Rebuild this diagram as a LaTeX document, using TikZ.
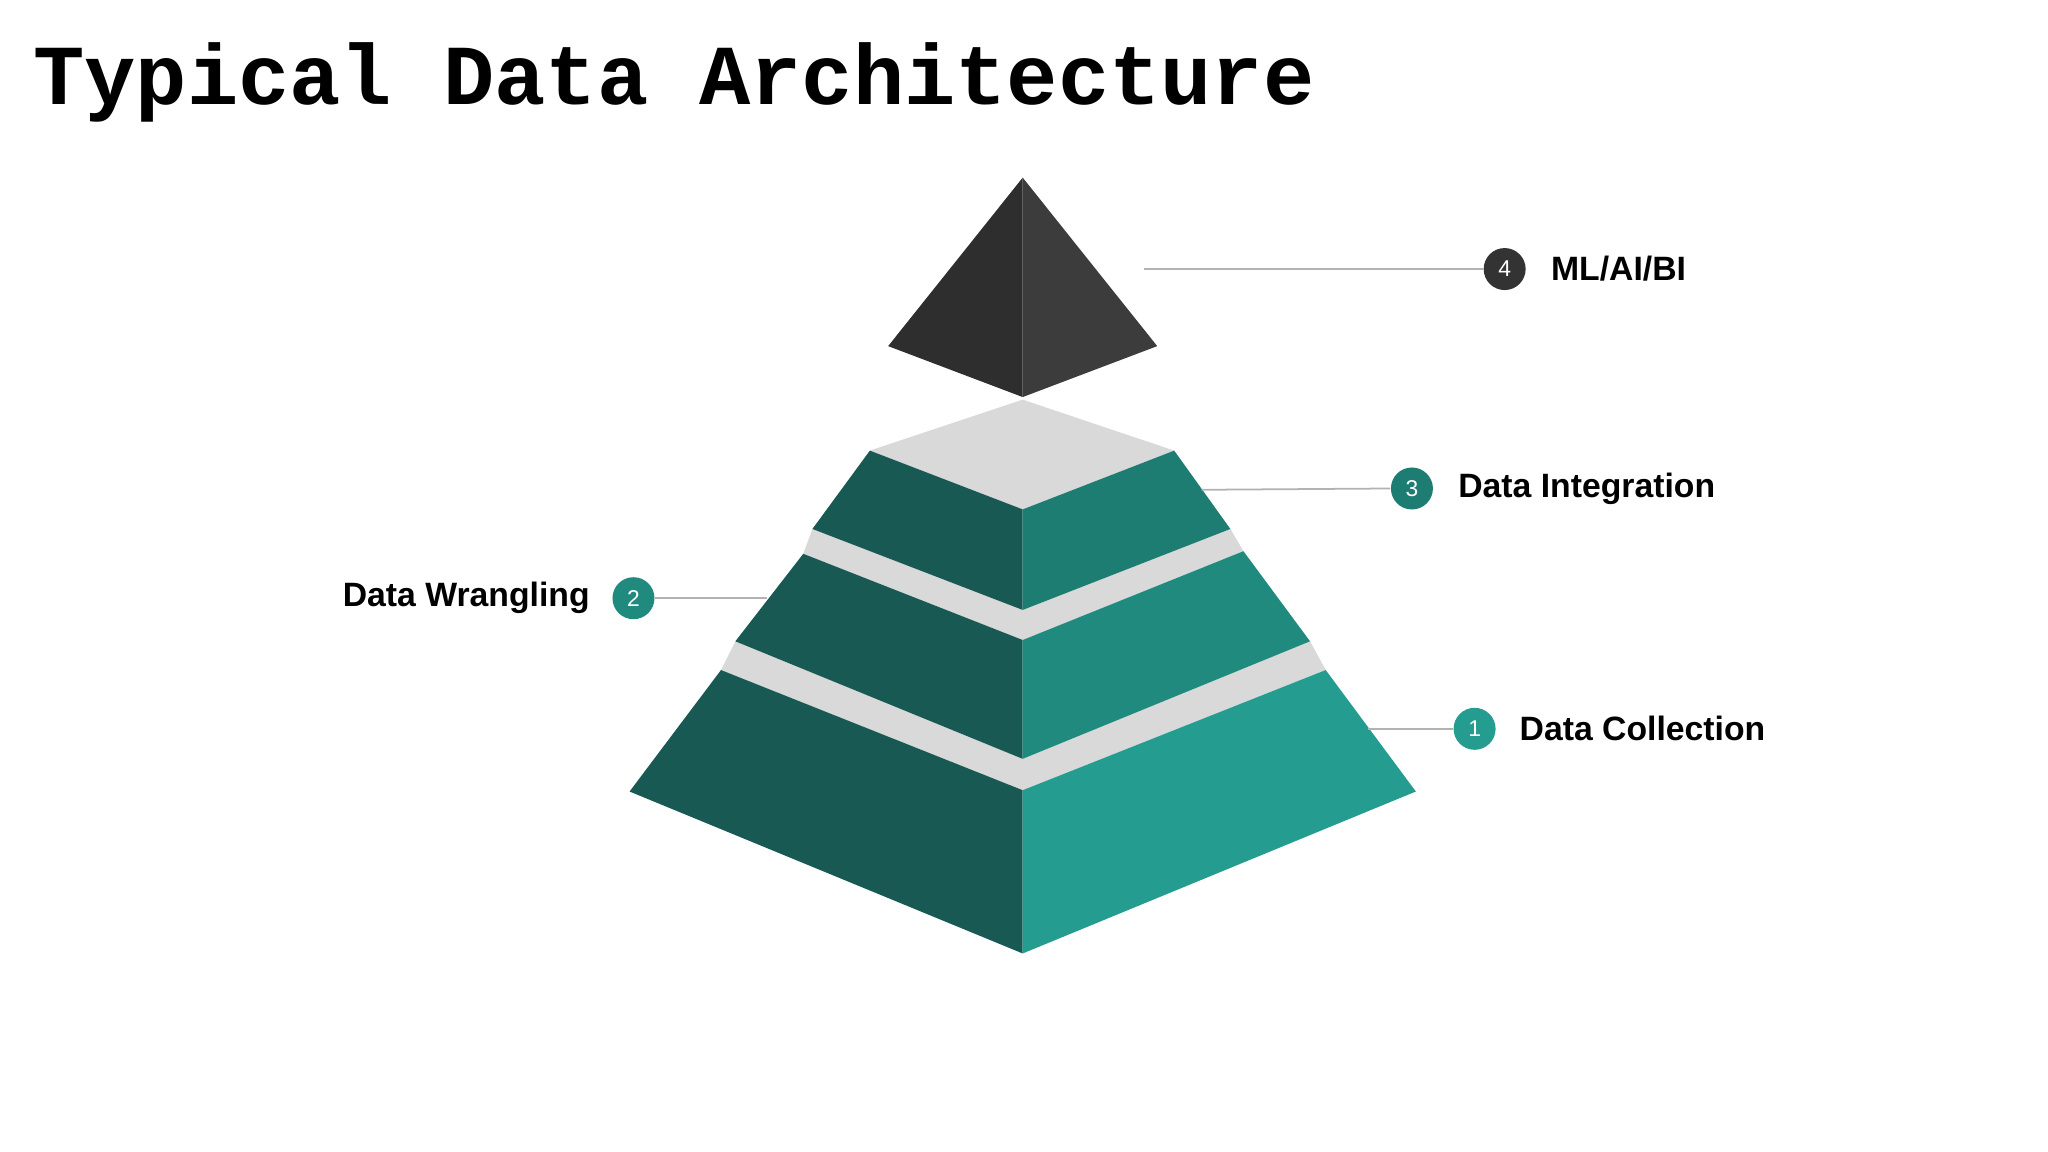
\documentclass[tikz,border=0pt]{standalone}
\usepackage{fontspec}
\setmainfont{Liberation Sans}
\newfontfamily\titlefont{Liberation Mono}
\definecolor{gtop}{HTML}{D9D9D9}
\definecolor{dkL}{HTML}{2E2E2E}
\definecolor{dkR}{HTML}{3C3C3C}
\definecolor{tL}{HTML}{185A53}
\definecolor{tR3}{HTML}{1E7D72}
\definecolor{tR2}{HTML}{1F8A7D}
\definecolor{tR1}{HTML}{259C90}
\definecolor{cdark}{HTML}{333333}
\tikzset{
  face/.style={draw=none},
  lead/.style={draw=gray!60, line width=0.5pt},
  badge/.style={circle, minimum size=0.42cm, inner sep=0pt, text=white, font=\fontsize{6.5pt}{7pt}\selectfont},
  lbl/.style={font=\bfseries\fontsize{9.6pt}{11pt}\selectfont, inner sep=0pt}
}
\begin{document}
\begin{tikzpicture}[x=0.013061cm,y=-0.013061cm]
\useasboundingbox (0,0) rectangle (1568,882);
\fill[white] (0,0) rectangle (1568,882);
\node[anchor=base west, inner sep=0pt, font=\titlefont\bfseries\fontsize{24.3pt}{26pt}\selectfont] (title) at (25,80) {Typical Data Architecture};
% tier 1
\fill[gtop] (563,491)--(783,581)--(1003,491)--(1015,513)--(783,605)--(552,513)--cycle;
\fill[tL] (552,513)--(783,605)--(783,730)--(482,606)--cycle;
\fill[tR1] (1015,513)--(783,605)--(783,730)--(1084,606)--cycle;
% tier 2
\fill[gtop] (622,405)--(783,467)--(942,405)--(952,422)--(783,490)--(615,424)--cycle;
\fill[tL] (615,424)--(783,490)--(783,581)--(563,491)--cycle;
\fill[tR2] (952,422)--(783,490)--(783,581)--(1003,491)--cycle;
% tier 3
\fill[gtop] (783,306)--(899,345)--(783,390)--(666,345)--cycle;
\fill[tL] (666,345)--(783,390)--(783,467)--(622,405)--cycle;
\fill[tR3] (899,345)--(783,390)--(783,467)--(942,405)--cycle;
% top
\fill[dkL] (783,136)--(680,265)--(783,304)--cycle;
\fill[dkR] (783,136)--(886,265)--(783,304)--cycle;
% labels
\coordinate (p4) at (876,206);
\node[badge, fill=cdark] (b4) at (1152,206) {4};
\draw[lead] (p4)--(b4);
\node[lbl, anchor=west] (l4) at (1187,206) {ML/AI/BI};
\coordinate (p3) at (920,375);
\node[badge, fill=tR3] (b3) at (1081,374) {3};
\draw[lead] (p3)--(b3.west);
\node[lbl, anchor=west] (l3) at (1116,374) {Data Integration};
\coordinate (p2) at (587,458);
\node[badge, fill=tR2] (b2) at (485,458) {2};
\draw[lead] (b2.east)--(p2);
\node[lbl, anchor=east] (l2) at (452,458) {Data Wrangling};
\coordinate (p1) at (1047,558);
\node[badge, fill=tR1] (b1) at (1129,558) {1};
\draw[lead] (p1)--(b1.west);
\node[lbl, anchor=west] (l1) at (1163,558) {Data Collection};
\end{tikzpicture}
\end{document}
